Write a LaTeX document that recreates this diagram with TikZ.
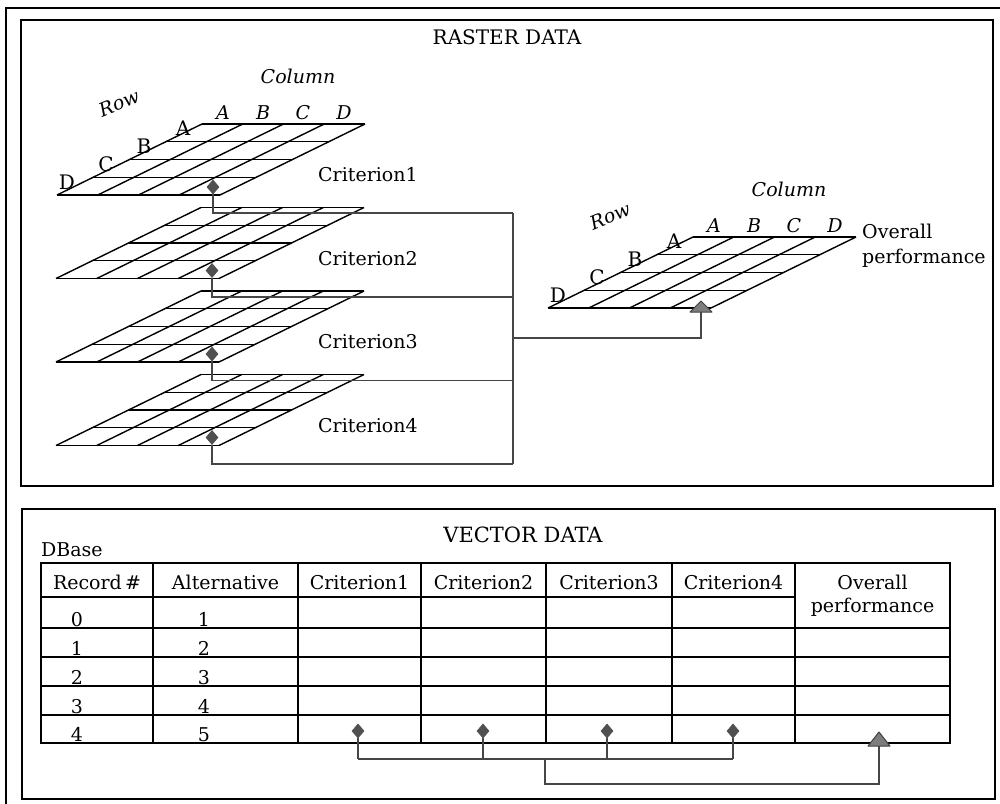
\documentclass[tikz,border=0pt]{standalone}
\usepackage{fontspec}
\setmainfont{DejaVu Serif}
\usetikzlibrary{shapes.geometric}
\definecolor{connc}{RGB}{70,70,70}
\definecolor{markc}{RGB}{80,80,80}
\definecolor{trifill}{RGB}{125,125,125}
\newcommand\rastergrid[2]{%
  \foreach \i in {0,...,4} {
    \draw[gridline] ({#1+\i*145/4},{#2-\i*71/4}) -- ++(163,0);
    \draw[gridline] ({#1+\i*163/4},#2) -- ++(145,-71);
  }}
\newcommand\gridlabels[3]{% bottom-left x, y, prefix
  \node[rowlet] (#3D) at ({#1+10},{#2-13}) {D};
  \node[rowlet] (#3C) at ({#1+49},{#2-31}) {C};
  \node[rowlet] (#3B) at ({#1+87},{#2-49}) {B};
  \node[rowlet] (#3A) at ({#1+126},{#2-67}) {A};
  \node[collet] (#3cA) at ({#1+145+21},{#2-71-11}) {A};
  \node[collet] (#3cB) at ({#1+145+61},{#2-71-11}) {B};
  \node[collet] (#3cC) at ({#1+145+101},{#2-71-11}) {C};
  \node[collet] (#3cD) at ({#1+145+142},{#2-71-11}) {D};
  \node[collab] (#3col) at ({#1+145+96},{#2-71-48}) {Column};
  \node[rowlab] (#3row) at ({#1+62},{#2-92}) {Row};}
\begin{document}
\begin{tikzpicture}[x=1pt,y=-1pt,
  frame/.style={line width=1.8pt, draw=black},
  gridline/.style={line width=1.4pt, black},
  tline/.style={line width=1.5pt, black},
  conn/.style={line width=1.7pt, draw=connc},
  marker/.style={diamond, fill=markc, draw=markc, line width=0.8pt, inner sep=0pt, minimum width=12pt, minimum height=14pt},
  trist/.style={fill=trifill, draw=black!75, line width=1pt, line join=round},
  big/.style={font=\fontsize{20}{24}\selectfont, inner sep=0pt},
  lbl/.style={font=\fontsize{19}{23}\selectfont, inner sep=0pt},
  rowlet/.style={font=\fontsize{20}{22}\selectfont, inner sep=0pt},
  collet/.style={font=\fontsize{19}{21}\selectfont\itshape, inner sep=0pt},
  collab/.style={font=\fontsize{19}{21}\selectfont\itshape, inner sep=0pt},
  rowlab/.style={font=\fontsize{19}{21}\selectfont\itshape, inner sep=0pt, rotate=22},
  cell/.style={font=\fontsize{19}{23}\selectfont, inner sep=0pt, anchor=base}]
\useasboundingbox (0,0) rectangle (1000,803);
% frames
\draw[frame] (6,806) -- (6,8) -- (1003,8);
\draw[frame] (21,20) rectangle (993,486);
\draw[frame] (22,509) rectangle (995,799);

% ---------- RASTER DATA ----------
\node[big] (rtitle) at (507,37) {RASTER DATA};
\rastergrid{57}{195}
\rastergrid{56}{278.5}
\rastergrid{56}{362}
\rastergrid{56}{445.5}
\rastergrid{548}{308}
\gridlabels{57}{195}{g}
\gridlabels{548}{308}{o}

\node[lbl, anchor=west] (c1) at (318,175) {Criterion1};
\node[lbl, anchor=west] (c2) at (318,258.5) {Criterion2};
\node[lbl, anchor=west] (c3) at (318,342) {Criterion3};
\node[lbl, anchor=west] (c4) at (318,425.5) {Criterion4};
\node[lbl, anchor=west, align=left, font=\fontsize{19}{25}\selectfont] (ovl) at (862,246) {Overall\\performance};

\node[marker] (m1) at (213,187) {};
\node[marker] (m2) at (212,270.5) {};
\node[marker] (m3) at (212,354) {};
\node[marker] (m4) at (212,437.5) {};
\coordinate (b1) at (513,213);
\coordinate (b2) at (513,297);
\coordinate (b3) at (513,380.5);
\coordinate (b4) at (513,464);
\coordinate (bm) at (513,338);
\draw[conn] (m1.south) |- (b1);
\draw[conn] (m2.south) |- (b2);
\draw[conn] (m3.south) |- (b3);
\draw[conn] (m4.south) |- (b4);
\draw[conn] (b1) -- (b4);
\coordinate (tri0) at (701,312);
\draw[conn] (bm) -| (tri0);
\filldraw[trist] (690,312) -- (701,301) -- (712,312) -- cycle;

% ---------- VECTOR DATA ----------
\node[big, font=\fontsize{21}{24}\selectfont] (vtitle) at (523,535) {VECTOR DATA};
\node[lbl, anchor=base west] (dbase) at (41,556) {DBase};
% table grid
\draw[tline] (41,563) rectangle (950,743);
\foreach \x in {153,298,421,546,672,795} \draw[tline] (\x,563) -- (\x,743);
\draw[tline] (41,597) -- (795,597);
\foreach \y in {628,657,686,715} \draw[tline] (41,\y) -- (950,\y);
% header
\node[cell] (hrec) at (97,589) {Record\,\#};
\node[cell] (halt) at (225.5,589) {Alternative};
\node[cell] (hc1) at (359.5,589) {Criterion1};
\node[cell] (hc2) at (483.5,589) {Criterion2};
\node[cell] (hc3) at (609,589) {Criterion3};
\node[cell] (hc4) at (733.5,589) {Criterion4};
\node[cell] (hov1) at (872.5,589) {Overall};
\node[cell] (hov2) at (872.5,612) {performance};
% data
\foreach \r/\a/\y [count=\k] in {0/1/626,1/2/655,2/3/684,3/4/713,4/5/741} {
  \node[cell] (rec\k) at (77,\y) {\r};
  \node[cell] (alt\k) at (204,\y) {\a};
}
% table connectors
\node[marker] (t1) at (358,731) {};
\node[marker] (t2) at (483,731) {};
\node[marker] (t3) at (607,731) {};
\node[marker] (t4) at (733,731) {};
\coordinate (u1) at (358,759);
\coordinate (u2) at (483,759);
\coordinate (u3) at (607,759);
\coordinate (u4) at (733,759);
\coordinate (um) at (545,759);
\coordinate (ul) at (545,784);
\coordinate (tri1) at (879,746);
\draw[conn] (t1.south) -- (u1);
\draw[conn] (t2.south) -- (u2);
\draw[conn] (t3.south) -- (u3);
\draw[conn] (t4.south) -- (u4);
\draw[conn] (u1) -- (u4);
\draw[conn] (um) -- (ul) -| (tri1);
\filldraw[trist] (868,746) -- (879,732) -- (890,746) -- cycle;
\end{tikzpicture}
\end{document}
